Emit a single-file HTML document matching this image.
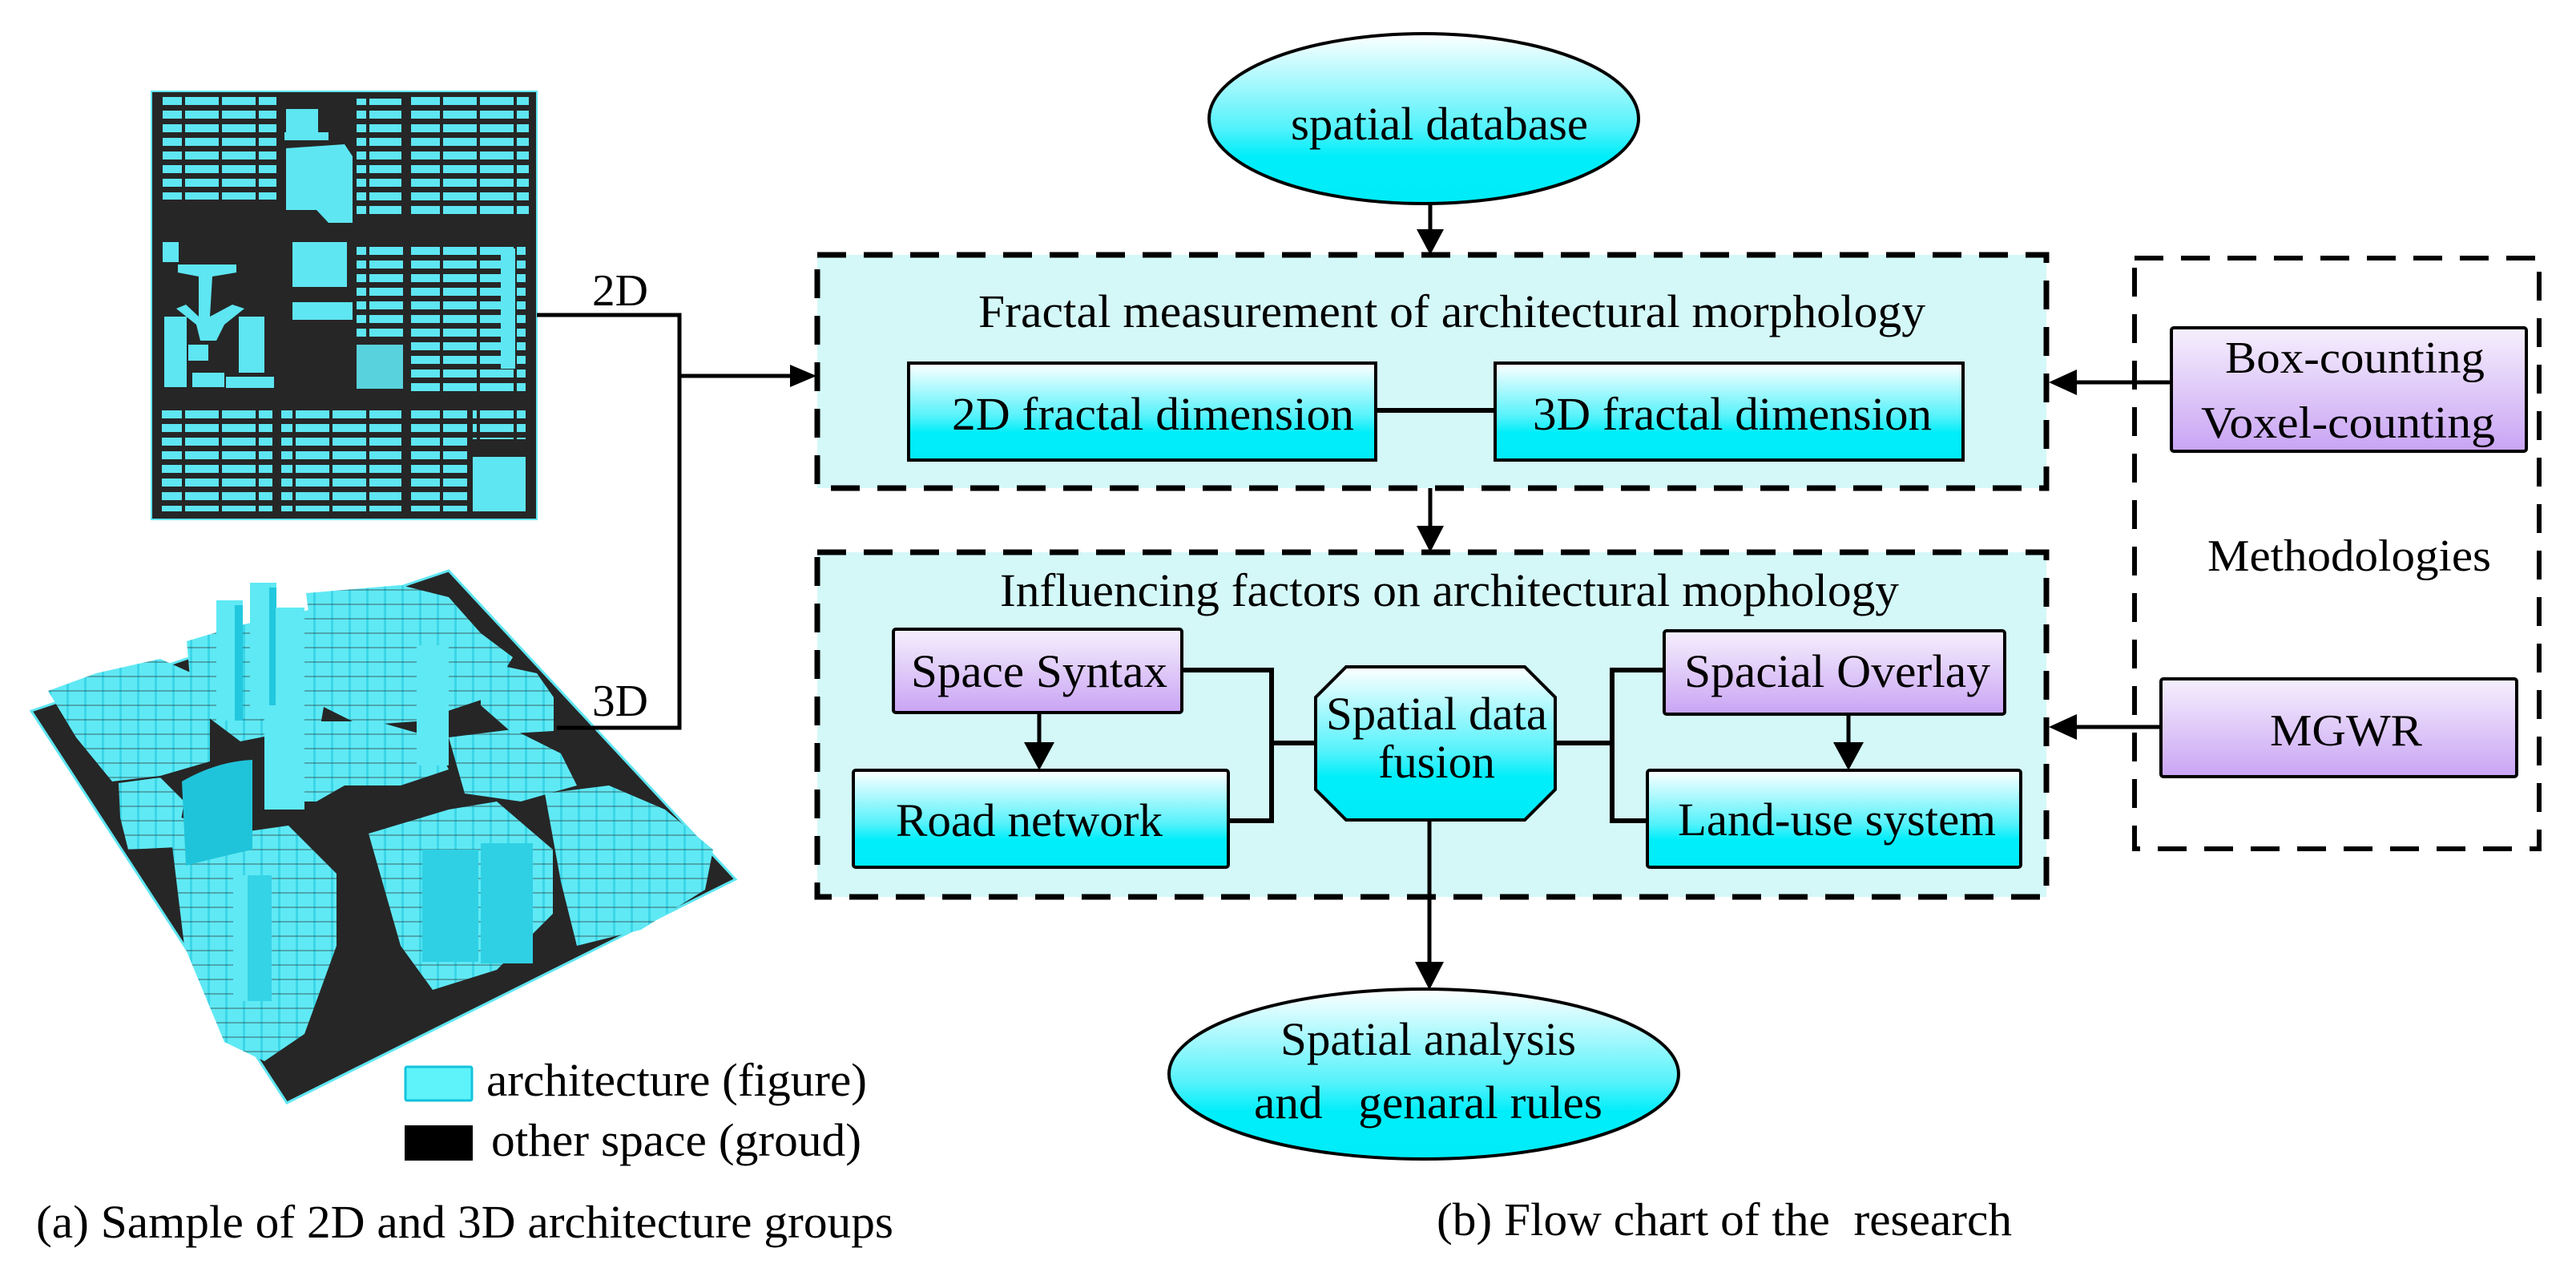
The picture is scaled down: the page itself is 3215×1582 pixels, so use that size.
<!DOCTYPE html>
<html><head><meta charset="utf-8"><style>
html,body{margin:0;padding:0;background:#fff;}
svg{display:block;font-family:"Liberation Serif","DejaVu Serif",serif;}
svg text{font-family:"Liberation Serif","DejaVu Serif",serif;fill:#000;}
</style></head><body>
<svg width="3215" height="1582" viewBox="0 0 3215 1582" xmlns="http://www.w3.org/2000/svg" font-family="Liberation Serif, DejaVu Serif, serif">
<defs>
<linearGradient id="cy" x1="0" y1="0" x2="0" y2="1">
<stop offset="0" stop-color="#ffffff"/><stop offset="0.55" stop-color="#55f2fb"/><stop offset="0.72" stop-color="#00eefa"/><stop offset="1" stop-color="#00ecf8"/></linearGradient>
<linearGradient id="pu" x1="0" y1="0" x2="0" y2="1">
<stop offset="0" stop-color="#f6f0fd"/><stop offset="1" stop-color="#c9a4f4"/></linearGradient>
<pattern id="bars" width="46" height="17" patternUnits="userSpaceOnUse">
<rect x="1" y="2" width="42" height="10" fill="#5ee6f2"/></pattern>
<pattern id="fac" width="22" height="18" patternUnits="userSpaceOnUse">
<rect width="22" height="18" fill="#5fe9f4"/><rect x="17" width="3" height="18" fill="#3bd6e8"/><rect y="15" width="22" height="2" fill="#2a2a2a" opacity="0.35"/></pattern>
</defs>

<!-- ===== 2D map ===== -->
<rect x="189" y="114" width="481" height="534" fill="#262626" stroke="#5ee6f2" stroke-width="2"/>
<rect x="203" y="121" width="142" height="128" fill="url(#bars)"/>
<rect x="357" y="136" width="40" height="30" fill="#5ee6f2"/>
<rect x="355" y="165" width="55" height="10" fill="#5ee6f2"/>
<path d="M357 185 L430 180 L440 195 L440 278 L410 278 L395 262 L357 262 Z" fill="#5ee6f2"/>
<rect x="445" y="123" width="56" height="144" fill="url(#bars)"/>
<rect x="513" y="121" width="147" height="150" fill="url(#bars)"/>
<rect x="203" y="302" width="20" height="25" fill="#5ee6f2"/>
<path d="M222 330 L295 330 L295 340 L265 345 L262 395 L290 380 L305 385 L280 405 L270 425 L250 425 L245 405 L220 385 L232 380 L248 395 L248 345 L222 340 Z" fill="#5ee6f2"/>
<rect x="205" y="395" width="28" height="88" fill="#5ee6f2"/>
<rect x="235" y="430" width="25" height="20" fill="#5ee6f2"/>
<rect x="298" y="395" width="32" height="70" fill="#5ee6f2"/>
<rect x="282" y="470" width="60" height="14" fill="#5ee6f2"/>
<rect x="240" y="465" width="40" height="18" fill="#5ee6f2"/>
<rect x="365" y="302" width="68" height="56" fill="#5ee6f2"/>
<rect x="445" y="302" width="58" height="125" fill="url(#bars)"/>
<rect x="365" y="377" width="75" height="22" fill="#5ee6f2"/>
<rect x="445" y="430" width="58" height="55" fill="#5ee6f2" opacity="0.9"/>
<rect x="513" y="302" width="143" height="187" fill="url(#bars)"/>
<rect x="625" y="310" width="18" height="150" fill="#5ee6f2"/>
<rect x="202" y="508" width="138" height="130" fill="url(#bars)"/>
<rect x="351" y="508" width="150" height="130" fill="url(#bars)"/>
<rect x="513" y="508" width="70" height="130" fill="url(#bars)"/>
<rect x="590" y="570" width="66" height="68" fill="#5ee6f2"/>
<rect x="590" y="508" width="66" height="40" fill="url(#bars)"/>

<!-- ===== 3D map ===== -->
<polygon points="39,887 560,712 918,1097 358,1376" fill="#262626" stroke="#5ee6f2" stroke-width="3"/>
<g fill="url(#fac)">
<polygon points="60,862 120,840 200,822 262,850 262,950 200,968 140,975 95,920"/>
<polygon points="233,800 300,780 390,760 420,790 400,905 300,925 240,880"/>
<polygon points="382,740 500,730 560,745 600,790 640,820 610,870 520,900 450,905 400,880"/>
<polygon points="600,825 670,840 691,870 691,912 640,915 600,880"/>
<polygon points="148,977 200,970 230,1000 220,1057 160,1060 150,1020"/>
<polygon points="380,900 470,900 540,920 560,960 500,980 430,980 395,1000 360,1000"/>
<polygon points="210,1015 290,1040 360,1030 420,1090 420,1180 380,1290 330,1324 280,1300 230,1180"/>
<polygon points="460,1040 560,1010 620,1000 690,1060 690,1140 620,1210 540,1235 500,1180"/>
<polygon points="680,990 760,980 830,1010 890,1060 880,1110 800,1160 720,1180 700,1100"/>
<polygon points="560,920 640,910 700,940 720,980 650,1000 580,990"/>
</g>
<rect x="270" y="749" width="33" height="150" fill="#5fe9f4"/><rect x="293" y="755" width="10" height="144" fill="#22c8de"/>
<rect x="312" y="727" width="33" height="170" fill="#5fe9f4"/><rect x="336" y="733" width="9" height="164" fill="#22c8de"/>
<rect x="344" y="758" width="36" height="130" fill="#5fe9f4"/>
<path d="M227 975 Q270 950 315 948 L315 1060 Q270 1070 232 1080 Z" fill="#20c4da"/>
<rect x="291" y="1092" width="48" height="157" fill="#35d3e6"/><rect x="291" y="1092" width="18" height="157" fill="#5fe9f4"/>
<rect x="527" y="1060" width="70" height="140" fill="#2fd0e4"/><rect x="600" y="1052" width="65" height="150" fill="#2fd0e4"/>
<rect x="330" y="880" width="50" height="130" fill="#5fe9f4"/>
<rect x="520" y="805" width="40" height="150" fill="#5fe9f4"/>

<!-- legend -->
<rect x="506" y="1331" width="83" height="42" fill="#5ef3fb" stroke="#14c3dd" stroke-width="3" rx="2"/>
<rect x="505" y="1404" width="85" height="44" fill="#000"/>
<text x="607" y="1367" font-size="58" textLength="475" lengthAdjust="spacingAndGlyphs">architecture (figure)</text>
<text x="613" y="1442" font-size="58" textLength="462" lengthAdjust="spacingAndGlyphs">other space (groud)</text>
<text x="45" y="1544" font-size="58" textLength="1070" lengthAdjust="spacingAndGlyphs">(a) Sample of 2D and 3D architecture groups</text>

<!-- 2D/3D connectors -->
<g stroke="#000" stroke-width="5" fill="none">
<polyline points="670,393 848,393 848,908 695,908"/>
<line x1="848" y1="469" x2="990" y2="469"/>
</g>
<polygon points="1019,469 986,455 986,483" fill="#000"/>
<text x="739" y="381" font-size="56" textLength="70" lengthAdjust="spacingAndGlyphs">2D</text>
<text x="739" y="893" font-size="56" textLength="70" lengthAdjust="spacingAndGlyphs">3D</text>

<!-- ===== flow chart ===== -->
<ellipse cx="1777" cy="148" rx="268" ry="106" fill="url(#cy)" stroke="#000" stroke-width="4"/>
<text x="1611" y="174" font-size="58" textLength="371" lengthAdjust="spacingAndGlyphs">spatial database</text>
<line x1="1785" y1="254" x2="1785" y2="290" stroke="#000" stroke-width="5"/>
<polygon points="1785,318 1768,286 1802,286" fill="#000"/>

<rect x="1020" y="318" width="1534" height="291" fill="#d4f8f8" stroke="#000" stroke-width="7" stroke-dasharray="36 22"/>
<text x="1221" y="408" font-size="58" textLength="1182" lengthAdjust="spacingAndGlyphs">Fractal measurement of architectural morphology</text>
<rect x="1134" y="453" width="583" height="121" fill="url(#cy)" stroke="#000" stroke-width="4"/>
<rect x="1866" y="453" width="584" height="121" fill="url(#cy)" stroke="#000" stroke-width="4"/>
<line x1="1717" y1="512" x2="1866" y2="512" stroke="#000" stroke-width="6"/>
<text x="1188" y="536" font-size="58" textLength="502" lengthAdjust="spacingAndGlyphs">2D fractal dimension</text>
<text x="1913" y="536" font-size="58" textLength="498" lengthAdjust="spacingAndGlyphs">3D fractal dimension</text>

<line x1="1785" y1="609" x2="1785" y2="660" stroke="#000" stroke-width="5"/>
<polygon points="1785,689 1768,656 1802,656" fill="#000"/>

<rect x="1020" y="689" width="1534" height="430" fill="#d4f8f8" stroke="#000" stroke-width="7" stroke-dasharray="36 22"/>
<text x="1248" y="756" font-size="58" textLength="1122" lengthAdjust="spacingAndGlyphs">Influencing factors on architectural mophology</text>

<g stroke="#000" stroke-width="6" fill="none">
<polyline points="1475,836 1587,836 1587,1024 1533,1024"/>
<line x1="1587" y1="927" x2="1642" y2="927"/>
<line x1="1941" y1="927" x2="2012" y2="927"/>
<polyline points="2077,836 2012,836 2012,1024 2056,1024"/>
</g>
<rect x="1115" y="785" width="360" height="104" fill="url(#pu)" stroke="#000" stroke-width="4" rx="3"/>
<rect x="1065" y="961" width="468" height="121" fill="url(#cy)" stroke="#000" stroke-width="4" rx="3"/>
<rect x="2077" y="787" width="425" height="104" fill="url(#pu)" stroke="#000" stroke-width="4" rx="3"/>
<rect x="2056" y="961" width="466" height="121" fill="url(#cy)" stroke="#000" stroke-width="4" rx="3"/>
<line x1="1297" y1="889" x2="1297" y2="930" stroke="#000" stroke-width="5"/>
<polygon points="1297,961 1278,926 1316,926" fill="#000"/>
<line x1="2307" y1="891" x2="2307" y2="930" stroke="#000" stroke-width="5"/>
<polygon points="2307,961 2288,926 2326,926" fill="#000"/>
<polygon points="1680,832 1903,832 1941,870 1941,985 1903,1023 1680,1023 1642,985 1642,870" fill="url(#cy)" stroke="#000" stroke-width="4"/>
<text x="1137" y="857" font-size="58" textLength="320" lengthAdjust="spacingAndGlyphs">Space Syntax</text>
<text x="1118" y="1043" font-size="58" textLength="333" lengthAdjust="spacingAndGlyphs">Road network</text>
<text x="1655" y="910" font-size="58" textLength="276" lengthAdjust="spacingAndGlyphs">Spatial data</text>
<text x="1720" y="970" font-size="58" textLength="146" lengthAdjust="spacingAndGlyphs">fusion</text>
<text x="2102" y="857" font-size="58" textLength="382" lengthAdjust="spacingAndGlyphs">Spacial Overlay</text>
<text x="2094" y="1042" font-size="58" textLength="397" lengthAdjust="spacingAndGlyphs">Land-use system</text>

<line x1="1784" y1="1023" x2="1784" y2="1205" stroke="#000" stroke-width="5"/>
<polygon points="1784,1235 1766,1200 1802,1200" fill="#000"/>
<ellipse cx="1777" cy="1340" rx="318" ry="106" fill="url(#cy)" stroke="#000" stroke-width="4"/>
<text x="1598" y="1316" font-size="58" textLength="369" lengthAdjust="spacingAndGlyphs">Spatial analysis</text>
<text x="1565" y="1395" font-size="58" textLength="435" lengthAdjust="spacingAndGlyphs" xml:space="preserve">and   genaral rules</text>
<text x="1793" y="1541" font-size="58" textLength="718" lengthAdjust="spacingAndGlyphs" xml:space="preserve">(b) Flow chart of the  research</text>

<!-- methodologies -->
<rect x="2664" y="322" width="505" height="737" fill="none" stroke="#000" stroke-width="6" stroke-dasharray="36 22"/>
<rect x="2710" y="409" width="443" height="154" fill="url(#pu)" stroke="#000" stroke-width="4" rx="3"/>
<rect x="2697" y="847" width="444" height="122" fill="url(#pu)" stroke="#000" stroke-width="4" rx="3"/>
<text x="2777" y="465" font-size="56" textLength="324" lengthAdjust="spacingAndGlyphs">Box-counting</text>
<text x="2747" y="546" font-size="56" textLength="367" lengthAdjust="spacingAndGlyphs">Voxel-counting</text>
<text x="2755" y="712" font-size="56" textLength="354" lengthAdjust="spacingAndGlyphs">Methodologies</text>
<text x="2833" y="930" font-size="56" textLength="190" lengthAdjust="spacingAndGlyphs">MGWR</text>
<line x1="2590" y1="477" x2="2710" y2="477" stroke="#000" stroke-width="5"/>
<polygon points="2557,477 2592,461 2592,493" fill="#000"/>
<line x1="2590" y1="907" x2="2697" y2="907" stroke="#000" stroke-width="5"/>
<polygon points="2557,907 2592,891 2592,923" fill="#000"/>
</svg>
</body></html>
